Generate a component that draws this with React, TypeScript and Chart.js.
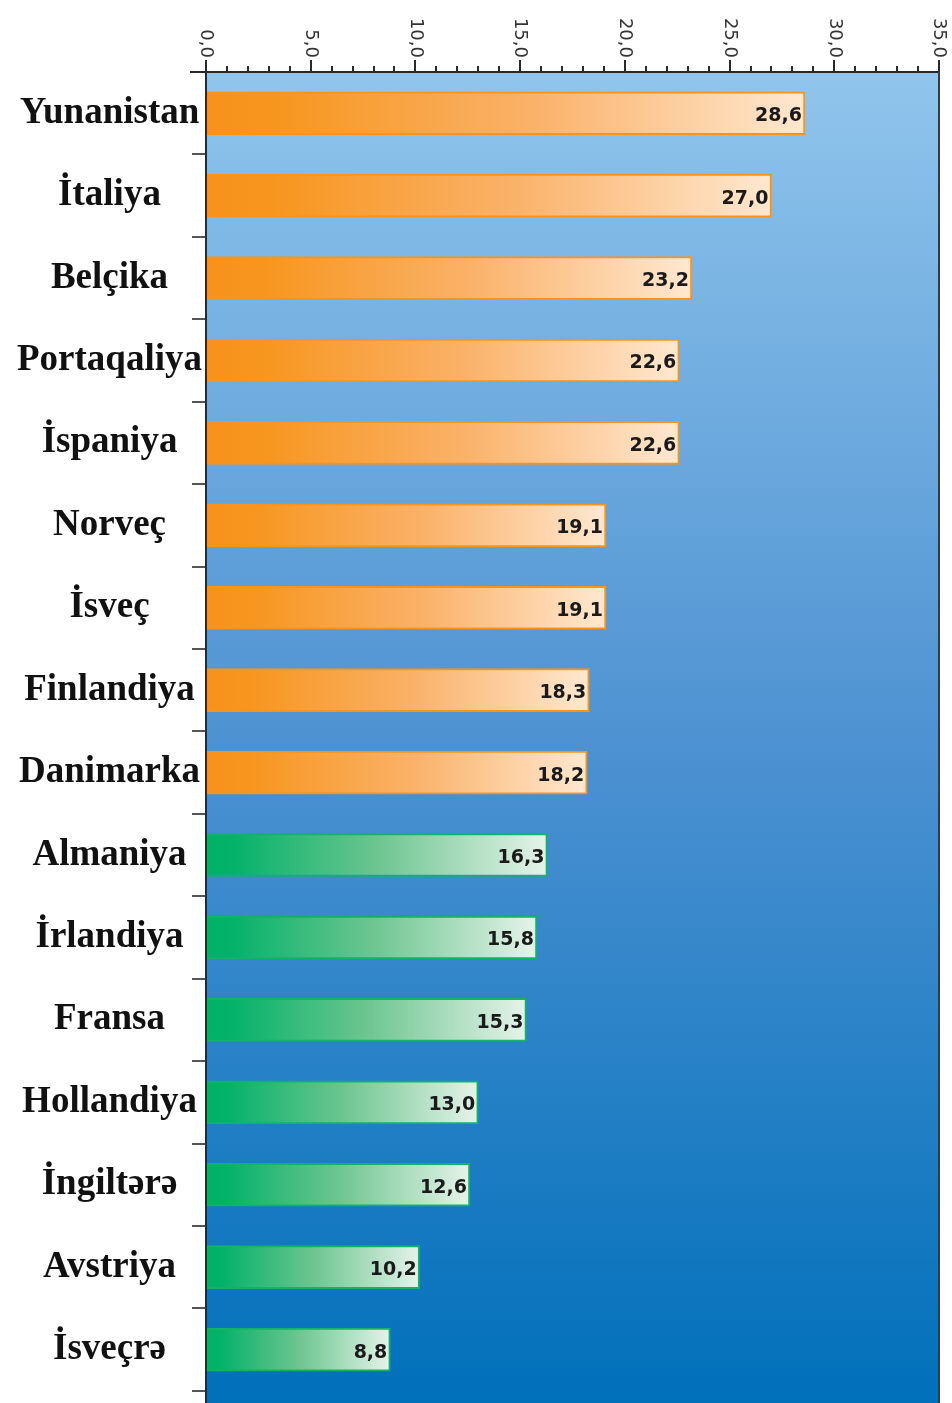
import React, { useEffect, useRef } from 'react';
import { Chart, registerables } from 'chart.js';

Chart.register(...registerables);

const categories = [
  'Yunanistan', 'İtaliya', 'Belçika', 'Portaqaliya', 'İspaniya', 'Norveç', 'İsveç',
  'Finlandiya', 'Danimarka', 'Almaniya', 'İrlandiya', 'Fransa', 'Hollandiya',
  'İngiltərə', 'Avstriya', 'İsveçrə',
];
const values = [28.6, 27.0, 23.2, 22.6, 22.6, 19.1, 19.1, 18.3, 18.2, 16.3, 15.8, 15.3, 13.0, 12.6, 10.2, 8.8];
const groups = ['o', 'o', 'o', 'o', 'o', 'o', 'o', 'o', 'o', 'g', 'g', 'g', 'g', 'g', 'g', 'g'];
const xMin = 0;
const xMax = 35;
const xMajorTicks = [0, 5, 10, 15, 20, 25, 30, 35];

const fmt = (v: number) => v.toFixed(1).replace('.', ',');

const ORANGE = '#F7941D';
const GREEN = '#12B26A';

const bgPlugin = {
  id: 'bgPlugin',
  beforeDatasetsDraw(chart: any) {
    const { ctx, chartArea, height } = chart;
    const g = ctx.createLinearGradient(0, chartArea.top, 0, height);
    g.addColorStop(0, '#90C5EC');
    g.addColorStop(0.5, '#4E92D2');
    g.addColorStop(1, '#0070BA');
    ctx.save();
    ctx.fillStyle = g;
    ctx.fillRect(chartArea.left, chartArea.top, chartArea.right - chartArea.left, height - chartArea.top);
    ctx.restore();
  },
};

const axisPlugin = {
  id: 'axisPlugin',
  afterDatasetsDraw(chart: any) {
    const { ctx, chartArea, height } = chart;
    const x = chart.scales.x;
    const top = chartArea.top;
    ctx.save();
    ctx.strokeStyle = '#2a2a2a';
    ctx.lineWidth = 2;
    ctx.beginPath();
    ctx.moveTo(chartArea.left - 16, top);
    ctx.lineTo(chartArea.right + 1, top);
    ctx.stroke();
    for (let v = xMin; v <= xMax; v++) {
      const px = Math.round(x.getPixelForValue(v));
      const len = v % 5 === 0 ? 12 : 6;
      ctx.beginPath();
      ctx.moveTo(px, top);
      ctx.lineTo(px, top - len);
      ctx.stroke();
    }
    ctx.beginPath();
    ctx.moveTo(chartArea.left, top);
    ctx.lineTo(chartArea.left, height);
    ctx.stroke();
    ctx.strokeStyle = '#3a3a3a';
    ctx.beginPath();
    ctx.moveTo(chartArea.right, top);
    ctx.lineTo(chartArea.right, height);
    ctx.stroke();
    ctx.fillStyle = '#333';
    ctx.font = '18px "DejaVu Sans"';
    ctx.textAlign = 'right';
    ctx.textBaseline = 'middle';
    xMajorTicks.forEach((v) => {
      const px = x.getPixelForValue(v);
      ctx.save();
      ctx.translate(px, top - 14);
      ctx.rotate(Math.PI / 2);
      ctx.fillText(fmt(v), 0, 0);
      ctx.restore();
    });
    ctx.restore();
  },
};

const valuePlugin = {
  id: 'valuePlugin',
  afterDatasetsDraw(chart: any) {
    const { ctx } = chart;
    const meta = chart.getDatasetMeta(0);
    ctx.save();
    ctx.fillStyle = '#1a1a1a';
    ctx.font = 'bold 19px "DejaVu Sans"';
    ctx.textAlign = 'right';
    ctx.textBaseline = 'middle';
    meta.data.forEach((el: any, i: number) => {
      ctx.fillText(fmt(values[i]), el.x - 3, el.y + 3);
    });
    ctx.restore();
  },
};

export default function App() {
  const ref = useRef<HTMLCanvasElement>(null);
  useEffect(() => {
    document.body.style.margin = '0';
    const canvas = ref.current!;
    const chart = new Chart(canvas, {
      type: 'bar',
      data: {
        labels: categories,
        datasets: [
          {
            data: values,
            backgroundColor: (c: any) => {
              const i = c.dataIndex;
              const isO = groups[i] === 'o';
              const sx = c.chart.scales && c.chart.scales.x;
              if (i === undefined || !sx) return isO ? ORANGE : GREEN;
              const x0 = sx.getPixelForValue(0);
              const x1 = sx.getPixelForValue(values[i]);
              if (!isFinite(x0) || !isFinite(x1) || x1 <= x0) return isO ? ORANGE : GREEN;
              const g = c.chart.ctx.createLinearGradient(x0, 0, x1, 0);
              if (isO) {
                g.addColorStop(0, '#F7921C');
                g.addColorStop(0.12, '#F7961F');
                g.addColorStop(0.55, '#FAB26A');
                g.addColorStop(1, '#FFE8D0');
              } else {
                g.addColorStop(0, '#00B168');
                g.addColorStop(0.08, '#04B26A');
                g.addColorStop(0.5, '#6CC58F');
                g.addColorStop(1, '#E6F3EA');
              }
              return g;
            },
            borderColor: (c: any) => (groups[c.dataIndex] === 'o' ? ORANGE : GREEN),
            borderWidth: 2,
            borderSkipped: false,
            barThickness: 43,
          } as any,
        ],
      },
      options: {
        indexAxis: 'y',
        responsive: false,
        animation: false,
        layout: { padding: { top: 0, right: 13, bottom: 11, left: 0 } },
        plugins: { legend: { display: false }, tooltip: { enabled: false } },
        scales: {
          x: {
            position: 'top',
            min: xMin,
            max: xMax,
            ticks: { display: false, stepSize: 5 },
            grid: { display: false },
            border: { display: false },
            afterFit: (s: any) => {
              s.height = 72;
            },
          },
          y: {
            ticks: {
              font: { family: '"Liberation Serif"', size: 37, weight: 'bold' },
              color: '#111',
              crossAlign: 'center',
              padding: -10,
            },
            grid: {
              drawOnChartArea: false,
              offset: true,
              tickLength: 14,
              color: '#555',
              lineWidth: 2,
            },
            border: { display: false },
            afterFit: (s: any) => {
              s.width = 206;
            },
          },
        },
      } as any,
      plugins: [bgPlugin, axisPlugin, valuePlugin],
    });
    return () => chart.destroy();
  }, []);
  return (
    <div style={{ width: 952, height: 1403, background: '#fff' }}>
      <canvas ref={ref} width={952} height={1403} style={{ display: 'block' }} />
    </div>
  );
}
